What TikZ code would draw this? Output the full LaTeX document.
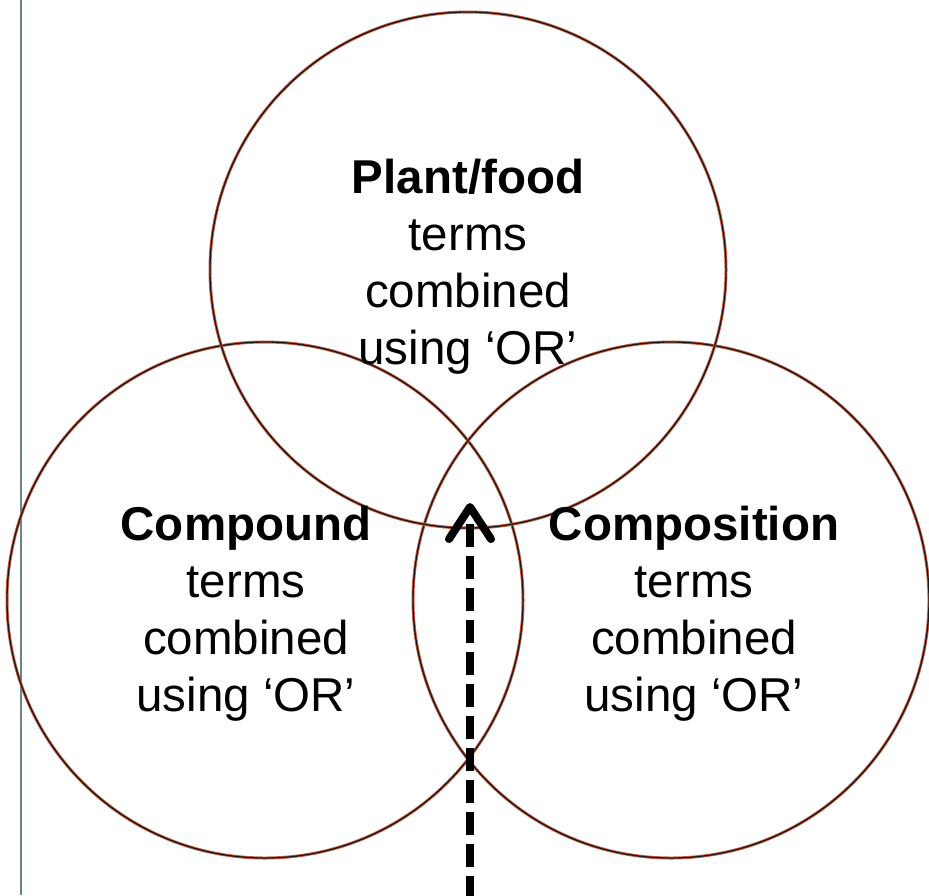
\documentclass[tikz,border=0pt]{standalone}
\usepackage{fontspec}
\setmainfont{Liberation Sans}
\usetikzlibrary{arrows.meta}

\definecolor{ringred}{RGB}{200,95,70}
\definecolor{ringdark}{RGB}{30,24,22}
\definecolor{marginline}{RGB}{104,134,136}

\begin{document}
\begin{tikzpicture}[x=1pt, y=-1pt,
  setring/.style={circle, draw=ringdark, line width=1.3pt, minimum size=516pt, inner sep=0pt,
    preaction={draw=ringred, line width=3pt}},
  label text/.style={align=center, font=\fontsize{47.5}{57}\selectfont, inner sep=0pt, anchor=base},
  search arrow/.style={line width=7.5pt, dash pattern=on 23pt off 9pt,
    -{Straight Barb[length=32pt, width=42pt, line width=8pt 0, round]}}
]
  \useasboundingbox (0,0) rectangle (929,895);

  % margin rule on the left
  \coordinate (mtop) at (21,0);
  \coordinate (mbot) at (21,895);
  \draw[marginline, line width=2.4pt] (mtop) -- (mbot);

  % the three overlapping term sets
  \node[setring] (compound) at (265,600) {};
  \node[setring] (composition) at (671,600) {};
  \node[setring] (plant) at (468,270) {};

  % set labels (anchored on the baseline of the last line)
  \node[label text] (plantlbl) at (468,364) {\textbf{Plant/food}\\terms\\combined\\using ‘OR’};
  \node[label text] (compoundlbl) at (246,711) {\textbf{Compound}\\terms\\combined\\using ‘OR’};
  \node[label text] (compositionlbl) at (694,711) {\textbf{Composition}\\terms\\combined\\using ‘OR’};

  % arrow into the common intersection
  \coordinate (tail) at (470,899);
  \coordinate (core) at (470,503);
  \draw[search arrow] (tail) -- (core);
\end{tikzpicture}
\end{document}
